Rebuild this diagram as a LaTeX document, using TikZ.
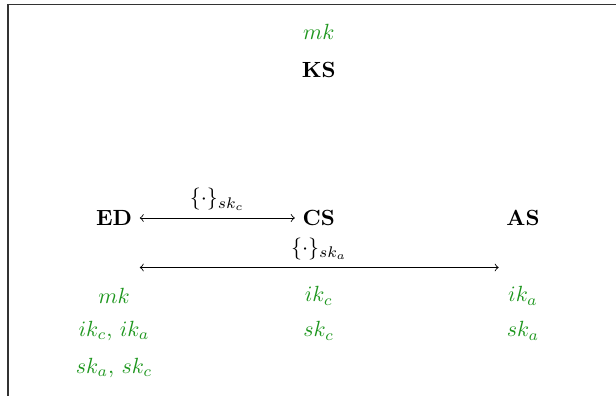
\documentclass[tikz,border=0pt]{standalone}
\definecolor{keygreen}{RGB}{30,150,30}
\begin{document}
\begin{tikzpicture}[>=to, key/.style={text=keygreen}, party/.style={font=\bfseries}]
    \useasboundingbox (0,0) rectangle (9.856,6.336);

    % 1. Khung (bị cắt ở bên phải và bên dưới)
    \draw[line width=0.6pt, black!80] (9.856,6.264) -- (0.128,6.264) -- (0.128,0);

    % 2. Các bên
    \node[party] (KS) at (5.1,5.216) {KS};
    \node[party] (ED) at (1.824,2.848) {ED};
    \node[party] (CS) at (5.1,2.848) {CS};
    \node[party] (AS) at (8.368,2.848) {AS};

    % 3. Các khóa của mỗi bên
    \node[key] (KSmk) at (5.1,5.824) {$mk$};
    % ED
    \node[key] (EDmk) at (1.824,1.6) {$mk$};
    \node[key] (EDik) at (1.824,1.04) {$ik_c$, $ik_a$};
    \node[key] (EDsk) at (1.824,0.448) {$sk_a$, $sk_c$};
    % CS
    \node[key] (CSik) at (5.1,1.6) {$ik_c$};
    \node[key] (CSsk) at (5.1,1.04) {$sk_c$};
    % AS
    \node[key] (ASik) at (8.368,1.6) {$ik_a$};
    \node[key] (ASsk) at (8.368,1.04) {$sk_a$};

    % 4. Các kênh mã hóa
    \draw[<->] (ED) -- node[above] {$\{\cdot\}_{sk_c}$} (CS);
    \coordinate (low) at (0,2.056);
    \draw[<->] (ED.east |- low) -- node[above] {$\{\cdot\}_{sk_a}$} (AS.west |- low);
\end{tikzpicture}
\end{document}
